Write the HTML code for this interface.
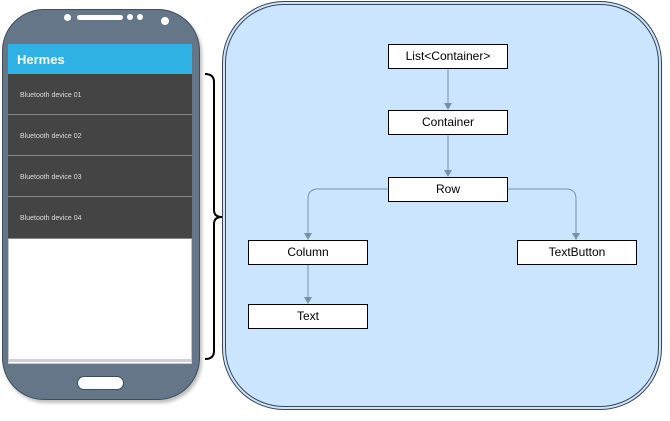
<!DOCTYPE html>
<html><head><style>
body{margin:0;width:670px;height:421px;background:#fff;position:relative;overflow:hidden;font-family:"Liberation Sans",sans-serif}
.phone{position:absolute;left:2px;top:9px;width:198px;height:391px;background:#647687;border-radius:42px;box-shadow:2px 3px 3px rgba(0,0,0,.25);border:1px solid #3e4d5c;box-sizing:border-box}
.screen{position:absolute;left:8px;top:44px;width:184px;height:320px;background:#fff;border:1px solid #c8c8d0;box-sizing:border-box}
.hdr{position:absolute;left:8px;top:44px;width:184px;height:30px;background:#2fb2e3;color:#fff;font-weight:bold;font-size:13px;line-height:31px;padding-left:9px;box-sizing:border-box}
.row{position:absolute;left:8px;width:184px;height:41px;background:#444;border-bottom:1px solid #888;color:#ddd;font-size:7px;line-height:43px;padding-left:12px;box-sizing:border-box}
.panel{position:absolute;left:222px;top:1px;width:440px;height:409px;box-sizing:border-box;border:4px double #3b4450;border-radius:62px;background:#cce5ff}
.box{position:absolute;width:120px;height:25px;border:1px solid #000;background:#fff;box-sizing:border-box;font-size:12px;text-align:center;line-height:23px}
</style></head><body>
<div class="phone"></div>
<div style="position:absolute;left:64px;top:14px;width:7px;height:7px;border-radius:50%;background:#fff"></div>
<div style="position:absolute;left:77px;top:15px;width:46px;height:5px;border-radius:3px;background:#fff"></div>
<div style="position:absolute;left:127px;top:14px;width:6px;height:6px;border-radius:50%;background:#fff"></div>
<div style="position:absolute;left:137px;top:14px;width:6px;height:6px;border-radius:50%;background:#fff"></div>
<div style="position:absolute;left:161px;top:17px;width:8px;height:8px;border-radius:50%;background:#fff"></div>
<div class="screen"></div>
<div style="position:absolute;left:9px;top:359px;width:182px;height:3px;background:#d0d0d8"></div>
<div class="hdr">Hermes</div>
<div class="row" style="top:74px">Bluetooth device 01</div>
<div class="row" style="top:115px">Bluetooth device 02</div>
<div class="row" style="top:156px">Bluetooth device 03</div>
<div class="row" style="top:197px;height:42px">Bluetooth device 04</div>
<div style="position:absolute;left:77px;top:376px;width:47px;height:14px;border-radius:7px;background:#fff;border:1px solid #3e4d5c;box-sizing:border-box"></div>
<div class="panel"></div>
<svg style="position:absolute;left:0;top:0" width="670" height="421">
<path d="M205,74 Q214,74 214,82 L214,210 Q214,217 222,217 Q214,217 214,224 L214,351 Q214,359 205,359" fill="none" stroke="#000" stroke-width="2"/>
<g stroke="#7a8fa8" stroke-width="1" fill="none">
<path d="M448,69 V104"/><path d="M448,134 V171"/>
<path d="M388,189 H318 Q308,189 308,199 V234"/>
<path d="M508,189 H566 Q576,189 576,199 V234"/>
<path d="M308,264 V298"/>
</g>
<g fill="#7a8fa8">
<path d="M444,103 L448,110 L452,103Z"/><path d="M444,170 L448,177 L452,170Z"/>
<path d="M304,233 L308,240 L312,233Z"/><path d="M572,233 L576,240 L580,233Z"/>
<path d="M304,297 L308,304 L312,297Z"/>
</g>
</svg>
<div class="box" style="left:388px;top:44px">List&lt;Container&gt;</div>
<div class="box" style="left:388px;top:110px">Container</div>
<div class="box" style="left:388px;top:177px">Row</div>
<div class="box" style="left:248px;top:240px">Column</div>
<div class="box" style="left:517px;top:240px">TextButton</div>
<div class="box" style="left:248px;top:304px">Text</div>
</body></html>
